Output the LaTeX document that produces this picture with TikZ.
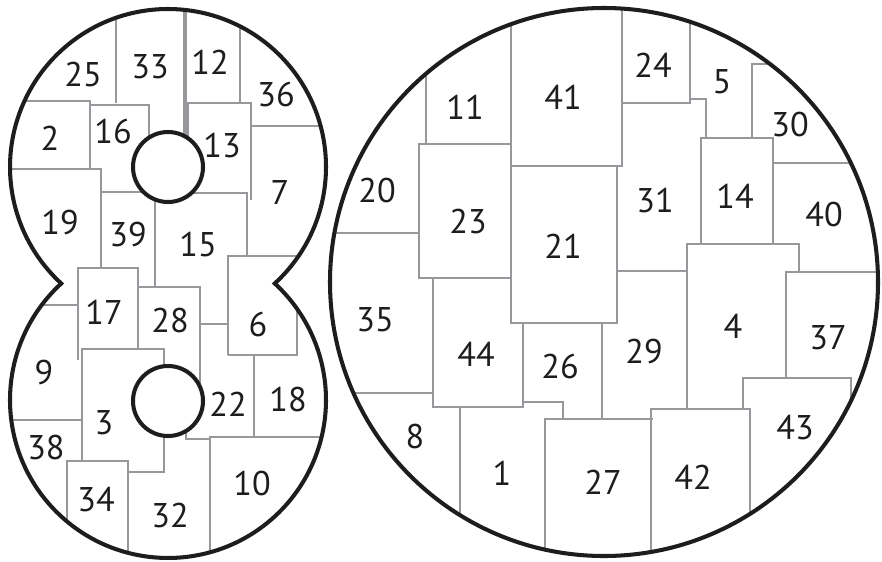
\documentclass[tikz,border=0pt]{standalone}
\usepackage{fontspec}
\setmainfont{PT Sans}
\usepackage{tikz}
\definecolor{piecegray}{RGB}{150,152,155}
\definecolor{rimblack}{RGB}{30,28,28}

\begin{document}
\begin{tikzpicture}[
    x=0.02cm, y=0.02cm, yscale=-1,
    piece/.style={draw=piecegray, line width=1.6pt, line join=miter},
    rim/.style={draw=rimblack, line width=2.3pt},
    num/.style={font=\fontsize{19.5}{19.5}\selectfont, text=rimblack, inner sep=0pt},
]
    \useasboundingbox (0,0) rectangle (882,561);

    % gray piece borders, clipped to the three discs
    \begin{scope}
        \clip (168,167) circle[radius=158] (168,400) circle[radius=158] (604,282) circle[radius=274];
        % left shape, upper disc
        \draw[piece] (116,0) -- (116,103);
        \draw[piece] (0,101) -- (90,101) -- (90,169);
        \draw[piece] (0,169) -- (101,169) -- (101,267);
        \draw[piece] (90,105) -- (149,105) -- (149,170);
        \draw[piece] (101,192) -- (160,192);
        \draw[piece, line width=2.2pt] (185,0) -- (185,150);
        \draw[piece] (240,0) -- (240,103);
        \draw[piece] (188,170) -- (188,103) -- (251,103) -- (251,200);
        \draw[piece] (251,126) -- (340,126);
        \draw[piece] (160,193) -- (247,193) -- (247,256);
        \draw[piece] (228,355) -- (228,256) -- (310,256);
        \draw[piece] (297,300) -- (297,355) -- (228,355);
        \draw[piece] (200,324) -- (228,324);
        \draw[piece] (155,200) -- (155,287);
        % left shape, lower disc
        \draw[piece] (78,360) -- (78,268) -- (138,268) -- (138,349);
        \draw[piece] (138,287) -- (200,287) -- (200,390);
        \draw[piece] (0,305) -- (78,305);
        \draw[piece] (82,460) -- (82,349) -- (164,349) -- (164,380);
        \draw[piece] (164,420) -- (164,472) -- (128,472);
        \draw[piece] (67,561) -- (67,461) -- (128,461) -- (128,561);
        \draw[piece] (0,420) -- (82,420);
        \draw[piece] (254,355) -- (254,437);
        \draw[piece] (186,430) -- (186,439) -- (210,439);
        \draw[piece] (210,561) -- (210,437) -- (340,437);
        % big disc
        \draw[piece] (426,0) -- (426,144);
        \draw[piece] (511,278) -- (419,278) -- (419,144) -- (511,144);
        \draw[piece] (330,233) -- (419,233);
        \draw[piece] (511,0) -- (511,323) -- (617,323) -- (617,166);
        \draw[piece] (511,166) -- (622,166) -- (622,0);
        \draw[piece] (622,103) -- (690,103) -- (690,0);
        \draw[piece] (690,99) -- (706,99) -- (706,138);
        \draw[piece] (701,244) -- (701,138) -- (773,138) -- (773,244);
        \draw[piece] (752,138) -- (752,64) -- (800,64);
        \draw[piece] (773,163) -- (900,163);
        \draw[piece] (687,409) -- (687,244) -- (799,244) -- (799,272);
        \draw[piece] (786,378) -- (786,272) -- (900,272);
        \draw[piece] (617,271) -- (687,271);
        \draw[piece] (602,323) -- (602,419);
        \draw[piece] (433,278) -- (433,407) -- (523,407) -- (523,323);
        \draw[piece] (330,393) -- (433,393);
        \draw[piece] (460,407) -- (460,561);
        \draw[piece] (523,402) -- (563,402) -- (563,419);
        \draw[piece] (545,561) -- (545,419) -- (653,419);
        \draw[piece] (651,561) -- (651,409) -- (750,409) -- (750,561);
        \draw[piece] (743,409) -- (743,378) -- (851,378) -- (851,430);
    \end{scope}

    % holes and outlines
    \draw[rim, fill=white] (168,167) circle[radius=35];
    \draw[rim, fill=white] (168,401) circle[radius=35];
    \draw[rim] (168,167) ++(47.5:158) arc[start angle=47.5, end angle=-227.5, radius=158]
        arc[start angle=227.5, end angle=-47.5, radius=158] -- cycle;
    \draw[rim] (604,282) circle[radius=274];

    % piece numbers
    \node[num] (n25) at (83,75) {25};
    \node[num] (n33) at (150,67) {33};
    \node[num] (n12) at (210,62) {12};
    \node[num] (n36) at (276,95) {36};
    \node[num] (n2) at (50,138) {2};
    \node[num] (n16) at (113,132) {16};
    \node[num] (n13) at (222,146) {13};
    \node[num] (n7) at (280,193) {7};
    \node[num] (n19) at (60,223) {19};
    \node[num] (n39) at (128,235) {39};
    \node[num] (n15) at (198,245) {15};
    \node[num] (n17) at (104,312) {17};
    \node[num] (n28) at (170,321) {28};
    \node[num] (n6) at (258,325) {6};
    \node[num] (n9) at (44,373) {9};
    \node[num] (n3) at (104,423) {3};
    \node[num] (n22) at (228,404) {22};
    \node[num] (n18) at (288,400) {18};
    \node[num] (n38) at (46,448) {38};
    \node[num] (n34) at (96,500) {34};
    \node[num] (n32) at (170,516) {32};
    \node[num] (n10) at (252,484) {10};
    \node[num] (n11) at (465,107) {11};
    \node[num] (n41) at (563,97) {41};
    \node[num] (n24) at (653,65) {24};
    \node[num] (n5) at (722,82) {5};
    \node[num] (n30) at (790,125) {30};
    \node[num] (n20) at (377,191) {20};
    \node[num] (n23) at (468,222) {23};
    \node[num] (n21) at (563,246) {21};
    \node[num] (n31) at (655,201) {31};
    \node[num] (n14) at (735,196) {14};
    \node[num] (n40) at (824,215) {40};
    \node[num] (n35) at (375,320) {35};
    \node[num] (n44) at (476,354) {44};
    \node[num] (n26) at (560,367) {26};
    \node[num] (n29) at (644,352) {29};
    \node[num] (n4) at (733,326) {4};
    \node[num] (n37) at (828,338) {37};
    \node[num] (n8) at (415,437) {8};
    \node[num] (n1) at (502,473) {1};
    \node[num] (n27) at (603,482) {27};
    \node[num] (n42) at (693,477) {42};
    \node[num] (n43) at (795,428) {43};
\end{tikzpicture}
\end{document}
